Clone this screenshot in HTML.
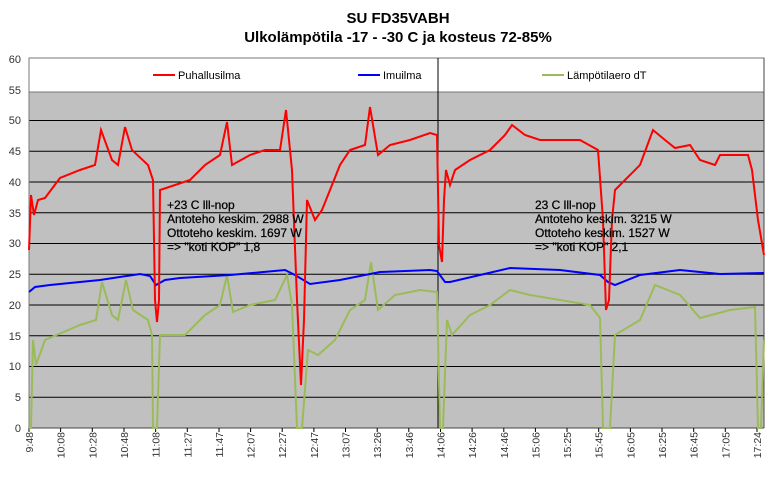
<!DOCTYPE html>
<html><head><meta charset="utf-8"><style>
body{margin:0;background:#fff;width:772px;height:472px;overflow:hidden}
text{font-family:"Liberation Sans",Arial,sans-serif}
</style></head><body>
<svg width="772" height="472" viewBox="0 0 772 472">
<text x="398" y="23" font-size="15" font-weight="bold" text-anchor="middle">SU FD35VABH</text>
<text x="398" y="42" font-size="15" font-weight="bold" text-anchor="middle">Ulkolämpötila -17 - -30 C ja kosteus 72-85%</text>
<rect x="29" y="59" width="735" height="369" fill="#c0c0c0"/>
<g stroke="#000" stroke-width="1">
<line x1="29" x2="764" y1="120.5" y2="120.5"/><line x1="29" x2="764" y1="151.3" y2="151.3"/>
<line x1="29" x2="764" y1="182" y2="182"/><line x1="29" x2="764" y1="212.8" y2="212.8"/>
<line x1="29" x2="764" y1="243.5" y2="243.5"/><line x1="29" x2="764" y1="274.3" y2="274.3"/>
<line x1="29" x2="764" y1="305" y2="305"/><line x1="29" x2="764" y1="335.8" y2="335.8"/>
<line x1="29" x2="764" y1="366.5" y2="366.5"/><line x1="29" x2="764" y1="397.3" y2="397.3"/>
</g>
<rect x="29" y="58" width="735" height="34" fill="#fff" stroke="#777" stroke-width="1"/>
<line x1="29" y1="58" x2="29" y2="428" stroke="#777"/>
<line x1="29" y1="428" x2="764" y2="428" stroke="#444"/>
<line x1="764" y1="58" x2="764" y2="428" stroke="#444"/>
<line x1="438" y1="58" x2="438" y2="428" stroke="#000"/>
<g font-size="11" fill="#333" text-anchor="end">
<text x="21" y="63">60</text><text x="21" y="94">55</text><text x="21" y="124">50</text><text x="21" y="155">45</text><text x="21" y="186">40</text><text x="21" y="217">35</text><text x="21" y="247">30</text><text x="21" y="278">25</text><text x="21" y="309">20</text><text x="21" y="340">15</text><text x="21" y="370">10</text><text x="21" y="401">5</text><text x="21" y="432">0</text>
</g>
<g font-size="10.5" fill="#333" text-anchor="end">
<text transform="translate(33,432) rotate(-90)">9:48</text>
<text transform="translate(64.6,432) rotate(-90)">10:08</text>
<text transform="translate(96.3,432) rotate(-90)">10:28</text>
<text transform="translate(128,432) rotate(-90)">10:48</text>
<text transform="translate(159.6,432) rotate(-90)">11:08</text>
<text transform="translate(191.3,432) rotate(-90)">11:27</text>
<text transform="translate(223,432) rotate(-90)">11:47</text>
<text transform="translate(254.6,432) rotate(-90)">12:07</text>
<text transform="translate(286.2,432) rotate(-90)">12:27</text>
<text transform="translate(317.9,432) rotate(-90)">12:47</text>
<text transform="translate(349.5,432) rotate(-90)">13:07</text>
<text transform="translate(381.2,432) rotate(-90)">13:26</text>
<text transform="translate(412.8,432) rotate(-90)">13:46</text>
<text transform="translate(444.5,432) rotate(-90)">14:06</text>
<text transform="translate(476.1,432) rotate(-90)">14:26</text>
<text transform="translate(507.8,432) rotate(-90)">14:46</text>
<text transform="translate(539.4,432) rotate(-90)">15:06</text>
<text transform="translate(571,432) rotate(-90)">15:25</text>
<text transform="translate(602.7,432) rotate(-90)">15:45</text>
<text transform="translate(634.4,432) rotate(-90)">16:05</text>
<text transform="translate(666,432) rotate(-90)">16:25</text>
<text transform="translate(697.7,432) rotate(-90)">16:45</text>
<text transform="translate(729.3,432) rotate(-90)">17:05</text>
<text transform="translate(761,432) rotate(-90)">17:24</text>
</g>
<g stroke="#000" stroke-width="1">
<path d="M29 428v4M60.6 428v4M92.3 428v4M124 428v4M155.6 428v4M187.3 428v4M219 428v4M250.6 428v4M282.2 428v4M313.9 428v4M345.5 428v4M377.2 428v4M408.8 428v4M440.5 428v4M472.1 428v4M503.8 428v4M535.4 428v4M567 428v4M598.7 428v4M630.4 428v4M662 428v4M693.7 428v4M725.3 428v4M757 428v4"/>
</g>
<polyline fill="none" stroke="#9bbb59" stroke-width="2" points="29,428 31,428 33,340 36,365 45,340 80,325 96,320 102,282 112,315 118,320 126,280 133,310 148,320 152,335 153,428 157,428 160,335 185,335 205,315 220,305 227,275 233,312 250,305 275,300 287,275 292,305 297,428 302,428 308,350 318,355 335,340 350,310 365,300 371,262 378,310 395,295 420,290 437,292 440,428 443,428 447,320 452,335 470,315 490,305 510,290 530,295 560,300 590,305 600,318 603,428 610,428 615,335 640,320 655,285 680,295 700,318 730,310 755,307 758,428 761,428 764,340"/>
<polyline fill="none" stroke="#0000ff" stroke-width="2" points="29,292 35,287 50,285 100,280 140,274 150,276 156,285 165,280 180,278 230,275 285,270 295,275 310,284 340,280 380,272 430,270 437,271 445,282 450,282 480,275 510,268 560,270 600,275 608,282 615,285 640,275 680,270 720,274 764,273"/>
<polyline fill="none" stroke="#ff0000" stroke-width="2" points="29,250 31,195 34,215 38,200 45,198 60,178 80,170 95,165 101,130 112,160 118,165 125,127 132,150 148,165 153,180 155,300 157,322 159,300 160,190 175,185 190,180 205,165 220,155 227,122 232,165 250,155 265,150 280,150 286,110 292,170 297,300 301,385 304,320 307,200 315,220 322,210 330,190 340,165 350,150 365,145 370,107 378,155 390,145 410,140 430,133 437,135 439,245 442,262 444,200 446,170 450,185 455,170 470,160 490,150 505,135 512,125 525,135 540,140 560,140 580,140 598,150 603,220 606,310 609,300 612,220 615,190 625,180 640,165 653,130 665,140 675,148 690,145 700,160 715,165 720,155 748,155 752,170 758,220 764,255"/>
<g font-size="11" fill="#000">
<line x1="153" y1="75" x2="175" y2="75" stroke="#ff0000" stroke-width="2"/><text x="178" y="79">Puhallusilma</text>
<line x1="358" y1="75" x2="380" y2="75" stroke="#0000ff" stroke-width="2"/><text x="383" y="79">Imuilma</text>
<line x1="542" y1="75" x2="564" y2="75" stroke="#9bbb59" stroke-width="2"/><text x="567" y="79">Lämpötilaero dT</text>
</g>
<g font-size="12" fill="#000" stroke="#000" stroke-width="0.25">
<text x="167" y="209">+23 C lll-nop</text><text x="167" y="223">Antoteho keskim. 2988 W</text><text x="167" y="237">Ottoteho keskim. 1697 W</text><text x="167" y="251">=&gt; "koti KOP" 1,8</text>
<text x="535" y="209">23 C lll-nop</text><text x="535" y="223">Antoteho keskim. 3215 W</text><text x="535" y="237">Ottoteho keskim. 1527 W</text><text x="535" y="251">=&gt; "koti KOP" 2,1</text>
</g>
</svg>
</body></html>
